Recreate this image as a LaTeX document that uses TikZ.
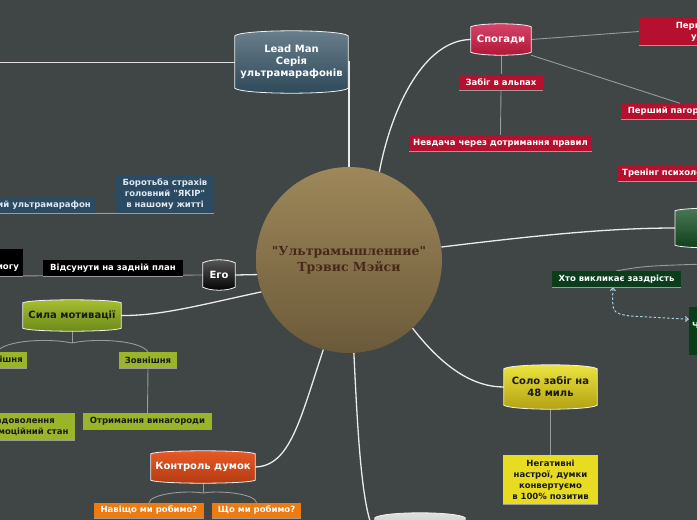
\documentclass[tikz,border=0pt]{standalone}
\usepackage{fontspec}
\newfontfamily\lab{DejaVu Sans}
\newfontfamily\ser{DejaVu Serif}
\usetikzlibrary{arrows.meta}
\pgfdeclarelayer{back}\pgfdeclarelayer{lines}\pgfdeclarelayer{bg}
\pgfsetlayers{back,lines,bg,main}
\definecolor{bgc}{RGB}{64,69,70}
\definecolor{cenT}{HTML}{9E885A}
\definecolor{cenB}{HTML}{6B5A3A}
\definecolor{cenTx}{HTML}{4A2818}
\definecolor{leadT}{HTML}{6B7F8C}
\definecolor{leadB}{HTML}{2C4858}
\definecolor{redT}{HTML}{D6456A}
\definecolor{redB}{HTML}{B01535}
\definecolor{redS}{HTML}{B5102E}
\definecolor{grnT}{HTML}{4A7A55}
\definecolor{grnB}{HTML}{0E3D1C}
\definecolor{grnS}{HTML}{0A3D1A}
\definecolor{slate}{HTML}{2B4B62}
\definecolor{slateTx}{HTML}{DFE6EE}
\definecolor{olvT}{HTML}{A8C030}
\definecolor{olvB}{HTML}{6A8818}
\definecolor{olvS}{HTML}{9BB52A}
\definecolor{orgT}{HTML}{EA5A25}
\definecolor{orgB}{HTML}{B23A12}
\definecolor{orgS}{HTML}{EE7A12}
\definecolor{ylwT}{HTML}{EEE640}
\definecolor{ylwB}{HTML}{B0A012}
\definecolor{ylwS}{HTML}{E8DC22}
\definecolor{greyT}{HTML}{E0E0E0}
\definecolor{greyB}{HTML}{B0B0B0}
\definecolor{dkTx}{HTML}{1A1A1A}
\definecolor{subc}{HTML}{9A9A9A}
\definecolor{dashc}{HTML}{A8D0E0}
\newcommand\bulgeshape[3]{%
  \path[#2] ([yshift=-#3]#1.north west) .. controls ([xshift=8pt,yshift=#3/3]#1.north west) and ([xshift=-8pt,yshift=#3/3]#1.north east) .. ([yshift=-#3]#1.north east)
   -- ([yshift=#3]#1.south east) .. controls ([xshift=-8pt,yshift=-#3/3]#1.south east) and ([xshift=8pt,yshift=-#3/3]#1.south west) .. ([yshift=#3]#1.south west) -- cycle;}
\tikzset{
  circ/.style={circle, minimum size=186pt, inner sep=0pt, top color=cenT, bottom color=cenB, font=\ser\bfseries\fontsize{12.5}{16}\selectfont, text=cenTx, align=center},
  bigtxt/.style={font=\lab\bfseries\fontsize{10}{12}\selectfont, align=center, inner sep=2pt},
  small/.style={font=\lab\bfseries\fontsize{8.5}{11}\selectfont, align=center, inner xsep=4pt, inner ysep=2pt, minimum height=16pt},
  sred/.style={small, fill=redS, text=white},
  sgreen/.style={small, fill=grnS, text=white},
  sblack/.style={small, fill=black, text=white},
  sslate/.style={small, fill=slate, text=slateTx},
  solive/.style={small, fill=olvS, text=dkTx},
  sorange/.style={small, fill=orgS, text=white},
  syellow/.style={small, fill=ylwS, text=dkTx},
  bord/.style={draw=white!88!gray, line width=0.8pt},
  leadf/.style={bord, top color=leadT, bottom color=leadB},
  redf/.style={bord, top color=redT, bottom color=redB},
  grnf/.style={bord, top color=grnT, bottom color=grnB},
  blkf/.style={bord, top color=black!65, bottom color=black},
  olvf/.style={bord, top color=olvT, bottom color=olvB},
  orgf/.style={bord, top color=orgT, bottom color=orgB},
  ylwf/.style={bord, top color=ylwT, bottom color=ylwB},
  greyf/.style={bord, top color=greyT, bottom color=greyB},
  mainl/.style={draw=white!92!black, line width=1.3pt},
  subl/.style={draw=subc, line width=0.9pt},
  leftl/.style={draw=white!75!gray, line width=0.8pt},
  ul/.style={draw=subc, line width=0.8pt},
  dashl/.style={draw=dashc, line width=1pt, dash pattern=on 2.5pt off 2pt}
}
\begin{document}
\begin{tikzpicture}[x=1pt,y=-1pt, >={Straight Barb[length=3pt,width=5pt]}]
\path[use as bounding box] (0,0) rectangle (697,520);
\begin{pgfonlayer}{back}
\fill[bgc] (0,0) rectangle (697,520);
\end{pgfonlayer}

% central
\node[circ] (c) at (349,260) {"Ультрамышленние"\\Трэвис Мэйси};

% top
\node[bigtxt, minimum width=113pt, minimum height=62pt, text=white] (lead) at (291.5,62) {Lead Man\\Серія\\ультрамарафонів};
\coordinate (offL) at (-5,62);

\node[bigtxt, minimum width=60pt, minimum height=31pt, text=white] (sp) at (501,39.5) {Спогади};
\node[sred, minimum width=84pt] (alps) at (501,82.5) {Забіг в альпах};
\node[sred, minimum width=181pt] (nevd) at (500.5,143) {Невдача через дотримання правил};
\node[sred, anchor=west, minimum height=27pt, minimum width=140pt] (persh) at (639,31.5) {Перший забіг\\у горах};
\node[sred, anchor=west, minimum width=90pt] (pag) at (621,111.5) {Перший пагорб};
\node[sred, anchor=west] (tren) at (618,173.5) {Тренінг психології};

% right
\node[bigtxt, anchor=west, minimum width=100pt, minimum height=40pt] (grn) at (675,228) {};
\node[sgreen, minimum width=129pt] (kto) at (616.5,279) {Хто викликає заздрість};
\node[sgreen, anchor=north west, minimum height=48pt, align=left, inner xsep=3pt, text depth=12pt] (ch) at (689,307) {Чому ми заздримо};
\coordinate (offR) at (705,264);
\coordinate (dA) at (613,287);
\coordinate (dB) at (612,313);
\coordinate (dC) at (630,316);

% left
\node[bigtxt, minimum width=32pt, minimum height=30pt, text=white] (ego) at (219,275) {Его};
\node[sblack, minimum width=140pt] (vids) at (113,268) {Відсунути на задній план};
\node[sblack, anchor=south east, text height=17pt, text depth=2pt, inner ysep=4pt] (nogu) at (23,276) {допомогу};
\coordinate (offE) at (-5,276);
\node[sslate, minimum width=98pt, minimum height=37pt] (boro) at (165,194.5) {Боротьба страхів\\головний "ЯКІР"\\в нашому житті};
\node[sslate, anchor=south east, minimum height=15pt] (ultra) at (95,213) {Перший ультрамарафон};
\coordinate (offB) at (-5,213.5);

\node[bigtxt, minimum width=98pt, minimum height=31pt, text=dkTx] (syla) at (72,315.5) {Сила мотивації};
\node[solive, anchor=east] (vnut) at (27,360) {Внутрішня};
\node[solive, minimum width=58pt] (zovn) at (148,360) {Зовнішня};
\node[solive, minimum width=129pt] (otrym) at (147.5,421) {Отримання винагороди};
\node[solive, anchor=east, minimum height=27pt] (zad) at (75,426.5) {Задоволення\hspace*{16pt}\\емоційний стан};
\coordinate (sj) at (72,343);

\node[bigtxt, minimum width=104pt, minimum height=32pt, text=white] (kon) at (203,467) {Контроль думок};
\node[sorange, minimum width=110pt, minimum height=15pt] (nav) at (149,510.5) {Навіщо ми робимо?};
\node[sorange, minimum width=89pt, minimum height=15pt] (scho) at (256.5,510.5) {Що ми робимо?};
\coordinate (kj) at (203,493);

% bottom right
\node[bigtxt, minimum width=93pt, minimum height=44pt, text=dkTx] (solo) at (550.5,387) {Соло забіг на\\48 миль};
\node[syellow, minimum width=95pt, minimum height=49pt] (neg) at (550.5,479.5) {Негативні\\настрої, думки\\конвертуємо\\в 100\% позитив};
\node[bigtxt, minimum width=90pt, minimum height=40pt] (grey) at (420,533) {};

% bulged shapes
\begin{pgfonlayer}{bg}
\bulgeshape{lead}{leadf}{5pt}
\bulgeshape{sp}{redf}{3pt}
\bulgeshape{grn}{grnf}{3pt}
\bulgeshape{ego}{blkf}{3pt}
\bulgeshape{syla}{olvf}{3pt}
\bulgeshape{kon}{orgf}{3pt}
\bulgeshape{solo}{ylwf}{4pt}
\bulgeshape{grey}{greyf}{5pt}
\end{pgfonlayer}

% connectors
\begin{pgfonlayer}{lines}
\draw[leftl] (lead.west) -- (offL);
\draw[mainl] (lead.east) -| (c.north);
\draw[mainl] (c.71) .. controls (392,105) and (425,40) .. (sp.west);
\draw[mainl] (c.8) .. controls (540,235) and (610,228) .. (grn.west);
\draw[mainl] (c.189) -- (ego.east);
\draw[mainl] (c.200) .. controls (200,305) and (160,316) .. (syla.east);
\draw[mainl] (c.254) .. controls (300,420) and (290,466) .. (kon.east);
\draw[mainl] (c.313) .. controls (445,370) and (475,387) .. (solo.west);
\draw[mainl] (c.273) .. controls (358,440) and (362,510) .. (grey.west);

\draw[subl] (sp.south) -- (alps.north);
\draw[subl] (alps.south) -- (nevd.north);
\draw[subl] (sp.east) -- (persh.west);
\draw[subl] (sp.south east) -- ([xshift=59pt]pag.north west);
\draw[subl] (kto.north) .. controls (645,266) .. (offR);
\draw[subl] (ego.west) -- (offE);
\draw[subl] (boro.south east) -- (offB);
\draw[subl] (syla.south) -- (sj);
\draw[subl] (sj) .. controls (95,338) and (140,340) .. (zovn.north);
\draw[subl] (sj) .. controls (49,338) and (5,340) .. (vnut.north);
\draw[subl] (zovn.south) -- (otrym.north);
\draw[subl] (kon.south) -- (kj);
\draw[subl] (kj) .. controls (185,490) and (150,494) .. (nav.north);
\draw[subl] (kj) .. controls (221,490) and (256,494) .. (scho.north);
\draw[subl] (solo.south) -- (neg.north);
\end{pgfonlayer}

\draw[dashl, <->] (dA) .. controls (dB) .. (dC) -- ([yshift=12pt]ch.west);

\foreach \n in {alps,nevd,persh,pag,tren,kto,vids,nogu,boro,ultra,vnut,zovn,otrym,zad,nav,scho,neg}
  \draw[ul] (\n.south west) -- (\n.south east);
\end{tikzpicture}
\end{document}
